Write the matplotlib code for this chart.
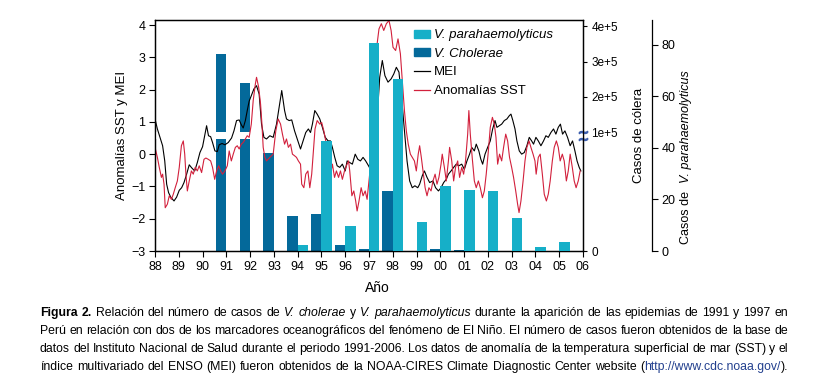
import numpy as np
import matplotlib.pyplot as plt
import matplotlib.transforms as mtransforms
from matplotlib.patches import Patch
from matplotlib.lines import Line2D

plt.rcParams['font.family'] = ['Liberation Sans', 'DejaVu Sans']

# yearly case counts (bars)
bar_years = np.arange(1988, 2006)
cholera_cases = [0, 0, 0, 320000, 238000, 70200, 24900, 26300, 4100,
                 1200, 43000, 0, 1400, 700, 0, 0, 0, 0]
vp_cases = [0, 0, 0, 0, 0, 0, 2.3, 42.8, 9.5, 80.4, 66.5, 11.4, 25.3,
            23.5, 23.3, 12.6, 1.6, 3.5]

# MEI
mei_t = [1988.00, 1988.10, 1988.21, 1988.32, 1988.41, 1988.49, 1988.57, 1988.66,
         1988.80, 1988.91, 1989.02, 1989.12, 1989.22, 1989.33, 1989.44, 1989.55,
         1989.67, 1989.78, 1989.89, 1990.00, 1990.10, 1990.17, 1990.25, 1990.34,
         1990.42, 1990.52, 1990.62, 1990.70, 1990.82, 1990.94, 1991.08, 1991.22,
         1991.32, 1991.43, 1991.54, 1991.63, 1991.71, 1991.80, 1991.88, 1991.96,
         1992.05, 1992.16, 1992.27, 1992.38, 1992.48, 1992.58, 1992.69, 1992.83,
         1992.97, 1993.11, 1993.22, 1993.33, 1993.45, 1993.53, 1993.64, 1993.75,
         1993.87, 1993.98, 1994.12, 1994.23, 1994.34, 1994.45, 1994.54, 1994.62,
         1994.72, 1994.82, 1994.93, 1995.04, 1995.16, 1995.28, 1995.38, 1995.46,
         1995.56, 1995.66, 1995.77, 1995.88, 1996.00, 1996.08, 1996.19, 1996.30,
         1996.42, 1996.53, 1996.64, 1996.75, 1996.86, 1996.98, 1997.06, 1997.14,
         1997.24, 1997.38, 1997.45, 1997.56, 1997.67, 1997.80, 1997.93, 1998.04,
         1998.15, 1998.26, 1998.37, 1998.49, 1998.60, 1998.71, 1998.82, 1998.93,
         1999.05, 1999.13, 1999.24, 1999.33, 1999.44, 1999.55, 1999.69, 1999.80,
         1999.92, 2000.03, 2000.14, 2000.25, 2000.34, 2000.45, 2000.56, 2000.67,
         2000.78, 2000.90, 2001.01, 2001.12, 2001.23, 2001.32, 2001.43, 2001.51,
         2001.62, 2001.70, 2001.78, 2001.88, 2001.99, 2002.10, 2002.20, 2002.30,
         2002.38, 2002.48, 2002.58, 2002.69, 2002.80, 2002.90, 2002.97, 2003.05,
         2003.14, 2003.22, 2003.32, 2003.42, 2003.53, 2003.64, 2003.74, 2003.84,
         2003.92, 2004.02, 2004.12, 2004.23, 2004.34, 2004.44, 2004.54, 2004.65,
         2004.76, 2004.86, 2004.96, 2005.05, 2005.14, 2005.24, 2005.35, 2005.46,
         2005.56, 2005.66, 2005.75, 2005.84, 2005.91]
mei = [1.09, 0.78, 0.52, 0.26, -0.21, -0.93, -1.19, -1.33,
       -1.45, -1.33, -1.12, -1.04, -0.88, -0.62, -0.33, -0.43,
       -0.52, -0.26, 0.05, 0.23, 0.62, 0.88, 0.57, 0.54,
       0.36, 0.10, 0.08, 0.29, 0.33, 0.29, 0.36, 0.50,
       0.72, 1.04, 1.06, 0.91, 0.81, 1.04, 1.35, 1.64,
       1.81, 2.02, 2.12, 1.86, 0.93, 0.52, 0.47, 0.57,
       0.52, 0.93, 1.45, 1.97, 1.35, 1.09, 1.04, 1.06,
       0.72, 0.47, 0.16, 0.41, 0.67, 0.78, 0.67, 0.93,
       1.35, 1.24, 1.09, 0.83, 0.52, 0.41, 0.41, 0.21,
       -0.10, -0.36, -0.41, -0.31, -0.52, -0.21, -0.26, -0.31,
       0.00, -0.16, -0.21, -0.10, -0.21, -0.36, -0.47, 0.00,
       0.52, 1.55, 2.38, 2.90, 2.43, 2.23, 2.33, 2.48,
       2.69, 2.54, 1.76, 0.72, -0.21, -0.83, -1.04, -0.98,
       -1.04, -0.93, -0.67, -0.52, -0.72, -0.88, -0.83, -1.04,
       -1.14, -1.04, -0.88, -0.78, -0.62, -0.52, -0.41, -0.31,
       -0.36, -0.31, -0.47, -0.21, 0.00, 0.21, 0.10, 0.31,
       0.10, -0.15, -0.31, 0.00, 0.21, 0.41, 0.78, 1.04,
       0.83, 0.88, 0.93, 1.04, 1.09, 1.19, 1.24, 1.04,
       0.78, 0.41, 0.10, 0.00, 0.05, 0.26, 0.52, 0.41,
       0.31, 0.52, 0.41, 0.26, 0.41, 0.57, 0.52, 0.67,
       0.78, 0.62, 0.83, 0.93, 0.62, 0.72, 0.52, 0.26,
       0.41, 0.10, -0.21, -0.41, -0.52]

# SST anomalies
sst_t = [1988.00, 1988.10, 1988.18, 1988.27, 1988.32, 1988.38, 1988.43, 1988.52,
         1988.60, 1988.69, 1988.77, 1988.85, 1988.94, 1989.02, 1989.11, 1989.19,
         1989.25, 1989.30, 1989.36, 1989.44, 1989.53, 1989.61, 1989.69, 1989.78,
         1989.86, 1989.96, 1990.06, 1990.14, 1990.24, 1990.34, 1990.42, 1990.51,
         1990.59, 1990.68, 1990.76, 1990.84, 1990.94, 1991.04, 1991.12, 1991.21,
         1991.29, 1991.38, 1991.46, 1991.54, 1991.63, 1991.71, 1991.80, 1991.88,
         1991.96, 1992.05, 1992.13, 1992.22, 1992.27, 1992.36, 1992.44, 1992.50,
         1992.55, 1992.62, 1992.69, 1992.83, 1992.97, 1993.08, 1993.18, 1993.28,
         1993.36, 1993.45, 1993.53, 1993.61, 1993.70, 1993.78, 1993.87, 1993.95,
         1994.03, 1994.12, 1994.17, 1994.26, 1994.34, 1994.43, 1994.51, 1994.59,
         1994.65, 1994.73, 1994.82, 1994.93, 1995.01, 1995.10, 1995.18, 1995.27,
         1995.32, 1995.38, 1995.46, 1995.55, 1995.63, 1995.72, 1995.80, 1995.88,
         1995.97, 1996.05, 1996.14, 1996.19, 1996.28, 1996.36, 1996.44, 1996.50,
         1996.58, 1996.67, 1996.75, 1996.84, 1996.92, 1997.00, 1997.09, 1997.17,
         1997.24, 1997.28, 1997.33, 1997.42, 1997.52, 1997.62, 1997.73, 1997.84,
         1997.93, 1998.01, 1998.12, 1998.22, 1998.32, 1998.40, 1998.49, 1998.57,
         1998.65, 1998.74, 1998.82, 1998.91, 1998.99, 1999.07, 1999.13, 1999.20,
         1999.27, 1999.36, 1999.44, 1999.52, 1999.61, 1999.69, 1999.78, 1999.86,
         1999.94, 2000.03, 2000.08, 2000.17, 2000.25, 2000.34, 2000.39, 2000.48,
         2000.56, 2000.64, 2000.73, 2000.81, 2000.90, 2000.98, 2001.06, 2001.15,
         2001.20, 2001.26, 2001.34, 2001.43, 2001.51, 2001.60, 2001.68, 2001.77,
         2001.85, 2001.93, 2002.02, 2002.10, 2002.19, 2002.27, 2002.34, 2002.41,
         2002.49, 2002.58, 2002.66, 2002.75, 2002.83, 2002.91, 2003.00, 2003.08,
         2003.17, 2003.25, 2003.31, 2003.39, 2003.48, 2003.56, 2003.64, 2003.73,
         2003.81, 2003.90, 2003.98, 2004.03, 2004.12, 2004.20, 2004.29, 2004.37,
         2004.46, 2004.54, 2004.62, 2004.71, 2004.79, 2004.88, 2004.96, 2005.04,
         2005.13, 2005.21, 2005.30, 2005.38, 2005.46, 2005.55, 2005.63, 2005.71,
         2005.80, 2005.88]
sst = [0.21, -0.10, -0.41, -0.72, -0.62, -0.93, -1.66, -1.55,
       -1.29, -1.40, -1.24, -1.04, -0.83, -0.41, 0.26, 0.41,
       0.00, -0.62, -1.14, -0.83, -0.52, -0.62, -0.41, -0.52,
       -0.36, -0.57, -0.16, -0.12, -0.16, -0.21, -0.41, -0.78,
       -0.52, -0.36, -0.52, -0.62, -0.52, -0.36, 0.10, -0.21,
       0.00, 0.21, 0.26, 0.16, 0.31, 0.36, 0.47, 0.57,
       0.52, 0.93, 1.66, 2.17, 2.38, 2.07, 1.55, 0.90,
       0.21, -0.10, -0.21, -0.10, 0.00, 0.72, 1.09, 0.93,
       0.62, 0.31, 0.47, 0.21, 0.31, 0.00, -0.05, -0.10,
       -0.21, -0.31, -0.93, -1.04, -0.62, -0.52, -1.04, -0.62,
       0.00, 0.78, 1.04, 0.93, 0.98, 0.72, 0.41, -0.21,
       -1.04, -0.62, -0.31, -0.72, -0.52, -0.72, -0.52, -0.78,
       -0.52, -0.36, -0.21, -0.52, -1.29, -1.14, -1.45, -1.76,
       -1.45, -1.04, -1.29, -1.14, -1.40, -0.83, -0.21, 0.41,
       1.04, 2.20, 3.35, 3.88, 4.04, 3.83, 4.04, 4.14,
       3.83, 3.31, 3.21, 3.57, 3.11, 2.28, 1.35, 0.72,
       0.31, 0.00, -0.10, -0.21, -0.52, 0.00, 0.26, -0.10,
       -0.52, -1.04, -1.29, -1.04, -1.14, -0.83, -0.62, -0.93,
       -0.72, -0.31, 0.00, -0.41, -0.83, -0.21, 0.21, -0.21,
       -0.83, -0.41, -0.21, -0.72, -0.41, -0.62, -0.21, 0.62,
       1.35, 0.62, -0.10, -0.83, -1.04, -0.83, -1.04, -1.35,
       -1.14, -0.62, 0.10, 0.83, 1.14, 0.93, 0.52, -0.31,
       0.00, -0.21, 0.21, 0.62, 0.41, -0.10, -0.41, -0.72,
       -1.14, -1.55, -1.81, -1.45, -0.83, -0.21, 0.21, 0.41,
       0.21, 0.00, -0.21, -0.62, -0.10, 0.00, -0.62, -1.24,
       -1.45, -1.24, -0.83, -0.21, 0.21, 0.41, 0.21, -0.21,
       0.00, -0.21, -0.83, -0.52, 0.00, -0.41, -0.83, -1.04,
       -0.83, -0.52]

year_labels = [f"{y % 100:02d}" for y in range(1988, 2007)]
cholera_ticks = [0, 100000, 200000, 300000, 400000]
cholera_ticklabels = ["0", "1e+5", "2e+5", "3e+5", "4e+5"]

DARK = "#04699a"
CYAN = "#16afc8"
RED = "#d2203c"

# broken cholera axis: 0-80000 below the break, 1e5-4e5 above it
CH_LO, CH_HI = 80000, 100000


def ch_fwd(v):
    v = np.asarray(v, dtype=float)
    low = v * (111.7 / CH_LO)
    mid = 111.7 + (v - CH_LO) * (6.7 / (CH_HI - CH_LO))
    high = 118.4 + (v - CH_HI) * (35.43 / 1e5)
    return np.where(v <= CH_LO, low, np.where(v <= CH_HI, mid, high))


def ch_inv(h):
    h = np.asarray(h, dtype=float)
    low = h * (CH_LO / 111.7)
    mid = CH_LO + (h - 111.7) * ((CH_HI - CH_LO) / 6.7)
    high = CH_HI + (h - 118.4) * (1e5 / 35.43)
    return np.where(h <= 111.7, low, np.where(h <= 118.4, mid, high))


fig = plt.figure(figsize=(8.18, 3.79), dpi=100)
W, H = 818, 379
ax = fig.add_axes([155 / W, (H - 251) / H, 428 / W, 231 / H])
ax_ch = ax.twinx()
ax_vp = ax.twinx()

ax_ch.set_zorder(1)
ax.set_zorder(2)
ax_vp.set_zorder(3)
ax.patch.set_visible(False)
ax_vp.patch.set_visible(False)

# cholera bars (below the lines)
ax_ch.set_yscale("function", functions=(ch_fwd, ch_inv))
ax_ch.bar(bar_years - 0.22, cholera_cases, width=0.44, color=DARK, zorder=2)
ax_ch.axhspan(CH_LO, CH_HI, color="white", lw=0, zorder=3)
ax_ch.set_ylim(0, 417000)
ax_ch.set_yticks(cholera_ticks)
ax_ch.set_yticklabels(cholera_ticklabels)
ax_ch.set_ylabel("Casos de cólera", fontsize=9.5, labelpad=11)

# break marks on the right spine
trans = mtransforms.blended_transform_factory(ax_ch.transAxes, ax_ch.transData)
ax_ch.plot([1.0, 1.0], [CH_LO, CH_HI], transform=trans, ls="none",
           marker=r"$\sim$", markersize=6, color="#3d5fae", clip_on=False,
           zorder=5)

# lines
ax.plot(mei_t, mei, color="black", lw=0.8)
ax.plot(sst_t, sst, color=RED, lw=0.8)
ax.set_xlim(1988, 2006)
ax.set_ylim(-3, 4.155)
ax.set_xticks(range(1988, 2007))
ax.set_xticklabels(year_labels)
ax.set_yticks(range(-3, 5))
ax.set_ylabel("Anomalías SST y MEI", fontsize=9.5, labelpad=2)
ax.set_xlabel("Año", fontsize=10, labelpad=3)
ax.xaxis.set_label_coords(0.52, -0.13)

# V. parahaemolyticus bars (drawn over the lines)
ax_vp.bar(bar_years + 0.22, vp_cases, width=0.44, color=CYAN)
ax_vp.set_ylim(0, 89.5)
ax_vp.set_yticks([0, 20, 40, 60, 80])
ax_vp.spines["right"].set_position(("axes", 1.1605))
for s in ("left", "top", "bottom"):
    ax_vp.spines[s].set_visible(False)

for a in (ax, ax_ch, ax_vp):
    a.tick_params(direction="out", length=4, width=0.8, labelsize=9, pad=3)
    for s in a.spines.values():
        s.set_linewidth(0.9)
ax_ch.tick_params(length=3, labelsize=8.5)

fig.text(686 / W, 1 - 217 / H, "Casos de", rotation=90, ha="center",
         va="center", fontsize=9)
fig.text(686 / W, 1 - 127 / H, "V. parahaemolyticus", rotation=90,
         ha="center", va="center", fontsize=9, fontstyle="italic")

handles = [Patch(color=CYAN), Patch(color=DARK),
           Line2D([], [], color="black", lw=0.9), Line2D([], [], color=RED, lw=0.9)]
labels = ["V. parahaemolyticus", "V. Cholerae", "MEI", "Anomalías SST"]
leg = ax_vp.legend(handles, labels, loc="upper left", bbox_to_anchor=(0.605, 0.96),
                   frameon=False, fontsize=9.5, handlelength=1.2, handleheight=0.55,
                   handletextpad=0.3, labelspacing=0.5, borderaxespad=0, borderpad=0)
for t in leg.get_texts()[:2]:
    t.set_fontstyle("italic")

# caption, justified
renderer = fig.canvas.get_renderer()
NORMAL = {}
BOLD = {"fontweight": "bold"}
ITAL = {"fontstyle": "italic"}
LINK = {"color": "#23408e"}
caption = [
    [("Figura 2.", BOLD), (" Relación del número de casos de ", NORMAL),
     ("V. cholerae", ITAL), (" y ", NORMAL), ("V. parahaemolyticus", ITAL),
     (" durante la aparición de las epidemias de 1991 y 1997 en", NORMAL)],
    [("Perú en relación con dos de los marcadores oceanográficos del fenómeno "
      "de El Niño. El número de casos fueron obtenidos de la base de", NORMAL)],
    [("datos del Instituto Nacional de Salud durante el periodo 1991-2006. Los "
      "datos de anomalía de la temperatura superficial de mar (SST) y el", NORMAL)],
    [("índice multivariado del ENSO (MEI) fueron obtenidos de la NOAA-CIRES "
      "Climate Diagnostic Center website (", NORMAL),
     ("http://www.cdc.noaa.gov/", LINK), (").", NORMAL)],
]
caption_y = [313, 331, 349, 367]


def justified_line(runs, x0, x1, ypix, size):
    words = [[]]
    for txt, kw in runs:
        for i, p in enumerate(txt.split(" ")):
            if i:
                words.append([])
            if p:
                words[-1].append((p, kw))
    words = [w for w in words if w]
    items, total = [], 0.0
    for w in words:
        segs = []
        for p, kw in w:
            t = fig.text(0, 1 - ypix / H, p, fontsize=size, ha="left",
                         va="center", **kw)
            wd = t.get_window_extent(renderer).width
            segs.append((t, wd))
            total += wd
        items.append(segs)
    gap = (x1 - x0 - total) / (len(items) - 1)
    x = x0
    for segs in items:
        for t, wd in segs:
            t.set_x(x / W)
            x += wd
        x += gap


for runs, yp in zip(caption, caption_y):
    justified_line(runs, 40, 788, yp, 8.8)

fig.savefig("out.png", dpi=100, facecolor="white")
